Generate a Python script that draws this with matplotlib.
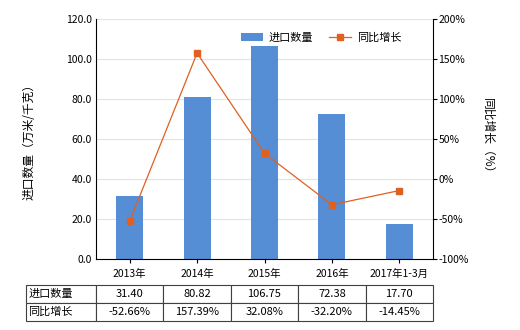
import matplotlib
matplotlib.use("Agg")
import matplotlib.pyplot as plt
import numpy as np

plt.rcParams['font.family'] = ['Noto Sans CJK SC', 'DejaVu Sans']

categories = ['2013年', '2014年', '2015年', '2016年', '2017年1-3月']
import_qty = [31.40, 80.82, 106.75, 72.38, 17.70]
yoy_growth = [-52.66, 157.39, 32.08, -32.20, -14.45]
qty_labels = ['31.40', '80.82', '106.75', '72.38', '17.70']
yoy_labels = ['-52.66%', '157.39%', '32.08%', '-32.20%', '-14.45%']

bar_color = '#558ED5'
line_color = '#E0601F'

fig = plt.figure(figsize=(5.2, 3.3), dpi=100)
W, H = 520, 330
ax = fig.add_axes([96/W, 1-259/H, (433-96)/W, 240/H])
x = np.arange(len(categories))
ax.bar(x, import_qty, width=0.4, color=bar_color, label='进口数量', zorder=2)
ax.set_xlim(-0.5, len(categories)-0.5)
ax.set_ylim(0, 120)
ax.set_yticks(np.arange(0, 121, 20))
ax.set_yticklabels([f'{v:.1f}' for v in np.arange(0, 121, 20)], fontsize=7.5)
ax.set_xticks(x)
ax.set_xticklabels(categories, fontsize=7.5)
ax.yaxis.grid(True, color='#e3e3e3', linewidth=0.8, zorder=0)
ax.set_axisbelow(True)
for s in ['top', 'right']:
    ax.spines[s].set_visible(False)
ax.tick_params(axis='y', length=0, pad=3)
ax.tick_params(axis='x', length=3, pad=4)
ax.set_ylabel('进口数量（万米/千克）', fontsize=8.5, labelpad=22)

ax2 = ax.twinx()
ax2.plot(x, yoy_growth, color=line_color, linewidth=0.9, marker='s', markersize=4,
         label='同比增长', zorder=3)
ax2.set_ylim(-100, 200)
ax2.set_yticks(np.arange(-100, 201, 50))
ax2.set_yticklabels([f'{v}%' for v in np.arange(-100, 201, 50)], fontsize=7.5)
ax2.tick_params(axis='y', length=3, pad=1)
for s in ['top', 'left', 'bottom']:
    ax2.spines[s].set_visible(False)
ax2.set_ylabel('同比增长（%）', fontsize=8.5, rotation=-90, labelpad=18)

h1, l1 = ax.get_legend_handles_labels()
h2, l2 = ax2.get_legend_handles_labels()
ax2.legend(h1 + h2, l1 + l2, loc='upper right', bbox_to_anchor=(0.935, 0.985),
           ncol=2, frameon=False, fontsize=8, handlelength=2.0, columnspacing=1.4,
           handletextpad=0.5)

# data table
col_w = [70] + [67.4]*5
tot = sum(col_w)
cell_text = [['进口数量'] + qty_labels, ['同比增长'] + yoy_labels]
left = (26-96)/337
bottom = -(321-259)/240
height = 36/240
width = tot/337
tab = ax.table(cellText=cell_text, colWidths=[c/tot for c in col_w],
               bbox=[left, bottom, width, height], cellLoc='center')
tab.auto_set_font_size(False)
tab.set_fontsize(8)
for (r, c), cell in tab.get_celld().items():
    cell.set_edgecolor('#404040')
    cell.set_linewidth(0.8)
    if c == 0:
        cell.set_text_props(ha='left')
        cell.PAD = 0.03

fig.savefig('out.png', dpi=100)
